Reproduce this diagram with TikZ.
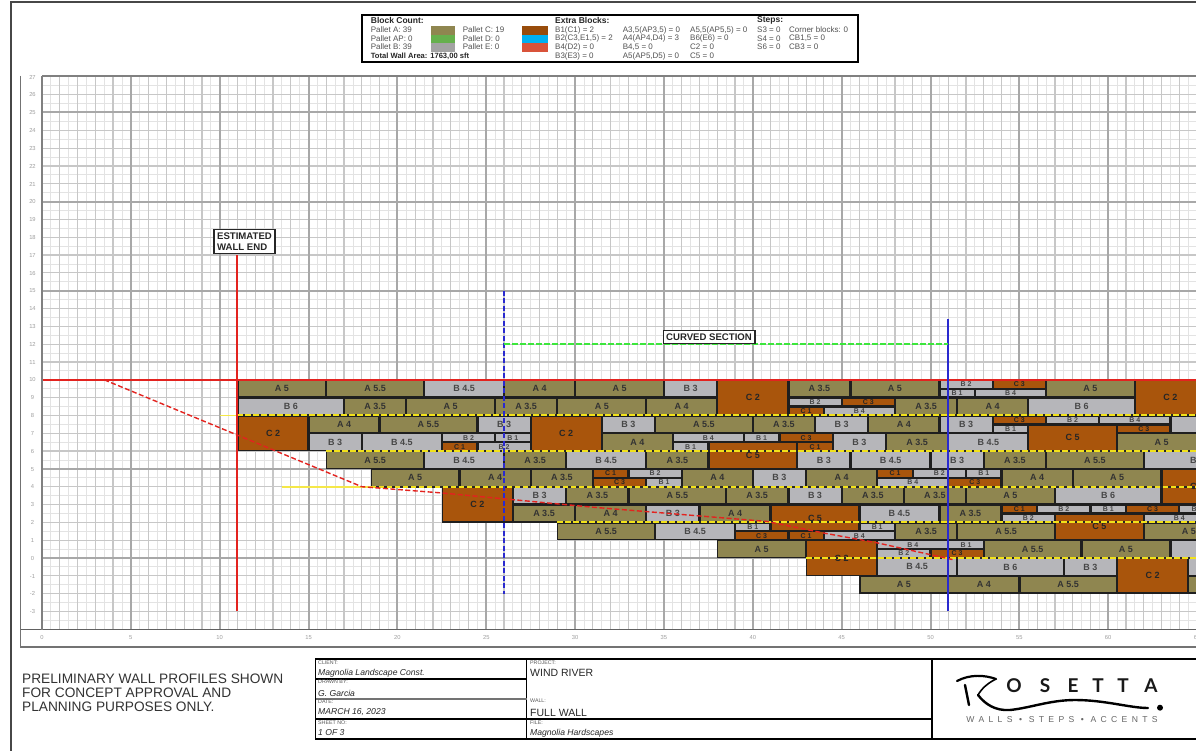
\documentclass[tikz,border=0pt]{standalone}
\usepackage{fontspec}
\setmainfont{Liberation Sans}
\newfontfamily\logoA{Lato}
\newfontfamily\logoB[LetterSpace=50]{Liberation Sans}
\usetikzlibrary{calc}
\definecolor{colA}{HTML}{8F8650}
\definecolor{colB}{HTML}{B6B6BA}
\definecolor{colC}{HTML}{A9550C}
\definecolor{legG}{HTML}{66B04D}
\definecolor{legB}{HTML}{00B0F0}
\definecolor{legR}{HTML}{D9533A}
\definecolor{wallred}{HTML}{E3231F}
\definecolor{wallblue}{HTML}{2A2ACF}
\definecolor{wallgreen}{HTML}{3CE63C}
\definecolor{wallyellow}{HTML}{F2E21A}
\tikzset{
  blkbase/.style={draw=black!88,line width=1.3pt,inner sep=0pt,outer sep=0pt,font=\bfseries\fontsize{9}{9}\selectfont},
  blkA/.style={blkbase,fill=colA,text=black!80},
  blkB/.style={blkbase,fill=colB,text=black!72},
  blkC/.style={blkbase,fill=colC,text=black!85},
  halfsize/.style={font=\bfseries\fontsize{7}{7}\selectfont},
  legtext/.style={anchor=west,inner sep=0pt,text=black!68,font=\fontsize{8}{9}\selectfont},
  leghead/.style={anchor=west,inner sep=0pt,text=black!85,font=\bfseries\fontsize{8.5}{9}\selectfont},
  ticklab/.style={inner sep=0pt,text=black!38,font=\fontsize{5.8}{6}\selectfont},
  tbsmall/.style={anchor=west,inner sep=0pt,text=black!65,font=\fontsize{5.3}{6}\selectfont},
  tbital/.style={anchor=west,inner sep=0pt,text=black!85,font=\itshape\fontsize{8.6}{10}\selectfont},
  tbplain/.style={anchor=west,inner sep=0pt,text=black!85,font=\fontsize{10.5}{12}\selectfont},
  callout/.style={draw=black!85,line width=1.3pt,fill=white,inner sep=3pt,align=left,font=\bfseries\fontsize{9.6}{10.8}\selectfont,text=black!85},
  redline/.style={wallred,line width=2pt},
  reddash/.style={wallred,line width=1.4pt,dash pattern=on 5pt off 2.5pt},
  yback/.style={black!85,line width=2pt},
  yfront/.style={wallyellow,line width=1.9pt,dash pattern=on 5.5pt off 2.5pt},
  ylead/.style={wallyellow!80,line width=1.8pt},
}
\begin{document}
\begin{tikzpicture}[x=1pt,y=-1pt]
\useasboundingbox (0,0) rectangle (1196,751);
\begin{scope}
\clip (0,0) rectangle (1196,751);
\fill[white] (0,0) rectangle (1196,751);
% feet scope
\begin{scope}[shift={(42,558)},x=17.77pt,y=17.82pt]
  \draw[black!11,line width=.9pt] (0,-4) grid[step=.5] (67.5,27);
  \draw[black!22,line width=1.2pt] (0,-4) grid[step=1] (67.5,27);
  \draw[black!34,line width=2pt] (0,-4) grid[step=5] (67.5,27);
  % whole courses and tall blocks
  \foreach \t/\x/\y/\w/\h/\l [count=\i] in {
    A/11/10/5/1/A 5, A/16/10/5.5/1/A 5.5, B/21.5/10/4.5/1/B 4.5, A/26/10/4/1/A 4, A/30/10/5/1/A 5, B/35/10/3/1/B 3, C/38/10/4/2/C 2, A/42/10/3.5/1/A 3.5, A/45.5/10/5/1/A 5, A/56.5/10/5/1/A 5, C/61.5/10/4/2/C 2,
    B/11/9/6/1/B 6, A/17/9/3.5/1/A 3.5, A/20.5/9/5/1/A 5, A/25.5/9/3.5/1/A 3.5, A/29/9/5/1/A 5, A/34/9/4/1/A 4, A/48/9/3.5/1/A 3.5, A/51.5/9/4/1/A 4, B/55.5/9/6/1/B 6,
    C/11/8/4/2/C 2, A/15/8/4/1/A 4, A/19/8/5.5/1/A 5.5, B/24.5/8/3/1/B 3, C/27.5/8/4/2/C 2, B/31.5/8/3/1/B 3, A/34.5/8/5.5/1/A 5.5, A/40/8/3.5/1/A 3.5, B/43.5/8/3/1/B 3, A/46.5/8/4/1/A 4, B/50.5/8/3/1/B 3, C/55.5/7.5/5/1.5/C 5, B/63.5/8/3/1/{},
    B/15/7/3/1/B 3, B/18/7/4.5/1/B 4.5, A/31.5/7/4/1/A 4, C/37.5/6.5/5/1.5/C 5, B/44.5/7/3/1/B 3, A/47.5/7/3.5/1/A 3.5, B/51/7/4.5/1/B 4.5, A/60.5/7/5/1/A 5,
    A/16/6/5.5/1/A 5.5, B/21.5/6/4.5/1/B 4.5, A/26/6/3.5/1/A 3.5, B/29.5/6/4.5/1/B 4.5, A/34/6/3.5/1/A 3.5, B/42.5/6/3/1/B 3, B/45.5/6/4.5/1/B 4.5, B/50/6/3/1/B 3, A/53/6/3.5/1/A 3.5, A/56.5/6/5.5/1/A 5.5, B/62/6/6/1/B 6,
    A/18.5/5/5/1/A 5, A/23.5/5/4/1/A 4, A/27.5/5/3.5/1/A 3.5, A/36/5/4/1/A 4, B/40/5/3/1/B 3, A/43/5/4/1/A 4, A/54/5/4/1/A 4, A/58/5/5/1/A 5, C/63/5/4/2/C 2,
    C/22.5/4/4/2/C 2, B/26.5/4/3/1/B 3, A/29.5/4/3.5/1/A 3.5, A/33/4/5.5/1/A 5.5, A/38.5/4/3.5/1/A 3.5, B/42/4/3/1/B 3, A/45/4/3.5/1/A 3.5, A/48.5/4/3.5/1/A 3.5, A/52/4/5/1/A 5, B/57/4/6/1/B 6,
    A/26.5/3/3.5/1/A 3.5, A/30/3/4/1/A 4, B/34/3/3/1/B 3, A/37/3/4/1/A 4, C/41/3/5/1.5/C 5, B/46/3/4.5/1/B 4.5, A/50.5/3/3.5/1/A 3.5, C/57/2.5/5/1.5/C 5,
    A/29/2/5.5/1/A 5.5, B/34.5/2/4.5/1/B 4.5, A/48/2/3.5/1/A 3.5, A/51.5/2/5.5/1/A 5.5, A/62/2/5.5/1/A 5.5,
    A/38/1/5/1/A 5, C/43/1/4/2/C 2, A/53/1/5.5/1/A 5.5, A/58.5/1/5/1/A 5, B/63.5/1/4.5/1/{},
    B/47/0/4.5/1/B 4.5, B/51.5/0/6/1/B 6, B/57.5/0/3/1/B 3, C/60.5/0/4/2/C 2, B/64.5/0/3/1/{},
    A/46/-1/5/1/A 5, A/51/-1/4/1/A 4, A/55/-1/5.5/1/A 5.5, A/64.5/-1/3/1/{}
  }{
    \pgfmathsetmacro{\cx}{\x+\w/2}\pgfmathsetmacro{\cy}{\y-\h/2}
    \pgfmathsetmacro{\bw}{\w*17.77-1}\pgfmathsetmacro{\bh}{\h*17.82-1}
    \node[blk\t,minimum width=\bw pt,minimum height=\bh pt] (w\i) at (\cx,\cy) {\l};
  }
  % half-height units
  \foreach \t/\x/\y/\w/\l [count=\i] in {
    B/50.5/10/3/B 2, C/53.5/10/3/C 3, B/50.5/9.5/2/B 1, B/52.5/9.5/4/B 4,
    B/42/9/3/B 2, C/45/9/3/C 3, C/42/8.5/2/C 1, B/44/8.5/4/B 4,
    C/53.5/8/3/C 3, B/56.5/8/3/B 2, B/59.5/8/4/B 4, B/53.5/7.5/2/B 1, C/60.5/7.5/3/C 3,
    B/22.5/7/3/B 2, B/25.5/7/2/B 1, C/22.5/6.5/2/C 1, B/24.5/6.5/3/B 2,
    B/35.5/7/4/B 4, B/39.5/7/2/B 1, C/41.5/7/3/C 3, B/35.5/6.5/2/B 1, C/42.5/6.5/2/C 1,
    C/31/5/2/C 1, B/33/5/3/B 2, C/31/4.5/3/C 3, B/34/4.5/2/B 1,
    C/47/5/2/C 1, B/49/5/3/B 2, B/52/5/2/B 1, B/47/4.5/4/B 4, C/51/4.5/3/C 3,
    C/54/3/2/C 1, B/56/3/3/B 2, B/59/3/2/B 1, C/61/3/3/C 3, B/64/3/2/B 1, B/54/2.5/3/B 2, B/62/2.5/4/B 4,
    B/39/2/2/B 1, C/39/1.5/3/C 3, C/42/1.5/2/C 1, B/44/1.5/4/B 4, B/46/2/2/B 1,
    B/47/1/4/B 4, B/51/1/2/B 1, B/47/.5/3/B 2, C/50/.5/3/C 3
  }{
    \pgfmathsetmacro{\cx}{\x+\w/2}\pgfmathsetmacro{\cy}{\y-.25}
    \pgfmathsetmacro{\bw}{\w*17.77-1}
    \node[blk\t,halfsize,minimum width=\bw pt,minimum height=7.9pt] (h\i) at (\cx,\cy) {\l};
  }
  % course lines
  \coordinate (y8a) at (10,8); \coordinate (y8b) at (11,8); \coordinate (y8c) at (67.5,8);
  \coordinate (y6b) at (16,6); \coordinate (y6c) at (67.5,6);
  \coordinate (y4a) at (13.5,4); \coordinate (y4b) at (18.5,4); \coordinate (y4c) at (67.5,4);
  \coordinate (y2b) at (29,2); \coordinate (y2c) at (67.5,2);
  \coordinate (y0b) at (43,0); \coordinate (y0c) at (67.5,0);
  \draw[ylead] (y8a)--(y8b);
  \draw[ylead] (y4a)--(y4b);
  \foreach \a/\b in {y8b/y8c,y6b/y6c,y4b/y4c,y2b/y2c,y0b/y0c}{
    \draw[yback] (\a)--(\b);
    \draw[yfront] (\a)--(\b);
  }
  % red lines
  \coordinate (rt0) at (0,10); \coordinate (rt1) at (67.5,10);
  \coordinate (rv0) at (11,17); \coordinate (rv1) at (11,-3);
  \draw[redline] (rt0)--(rt1);
  \draw[redline] (rv0)--(rv1);
  \coordinate (d0) at (3.5,10); \coordinate (d1) at (18,4); \coordinate (d2) at (22.5,3.65);
  \coordinate (d3) at (31,2.85); \coordinate (d4) at (40.8,2.05); \coordinate (d5) at (44,1.4);
  \coordinate (d6) at (47,.85); \coordinate (d7) at (51.3,-.1);
  \draw[reddash] (d0)--(d1)--(d2)--(d3)--(d4)--(d5)--(d6)--(d7);
  % blue and green
  \coordinate (bd0) at (26,15); \coordinate (bd1) at (26,-2);
  \coordinate (bs0) at (51,13.4); \coordinate (bs1) at (51,-3);
  \draw[wallblue,line width=1.8pt,dash pattern=on 5pt off 2.5pt] (bd0)--(bd1);
  \draw[wallblue,line width=2pt] (bs0)--(bs1);
  \coordinate (gr0) at (26,12); \coordinate (gr1) at (51,12);
  \draw[wallgreen,line width=1.8pt,dash pattern=on 6pt off 2pt] (gr0)--(gr1);
\end{scope}
% callouts
\node[callout] (estend) at (244.5,241.5) {ESTIMATED\\WALL END};
\node[callout,inner sep=3pt] (curved) at (709,337) {CURVED SECTION};
% frames
\coordinate (fa) at (10.7,751); \coordinate (fb) at (10.7,2); \coordinate (fc) at (1196,2);
\draw[black!72,line width=1.7pt] (fa)--(fb)--(fc);
\coordinate (pa) at (20.5,76); \coordinate (pb) at (20.5,647); \coordinate (pc) at (1196,647);
\draw[black!55,line width=1.6pt] (pa)--(pb)--(pc);
\coordinate (ax0) at (20.5,629.5); \coordinate (ax1) at (1196,629.5);
\draw[black!62,line width=1.6pt] (ax0)--(ax1);
\coordinate (tp0) at (42,76); \coordinate (tp1) at (1196,76);
\draw[black!50,line width=1.7pt] (tp0)--(tp1);
\coordinate (lf0) at (42,76); \coordinate (lf1) at (42,629.5);
\draw[black!50,line width=1.7pt] (lf0)--(lf1);
% axis labels
\foreach \v [count=\i] in {0,5,...,65}{
  \node[ticklab] (xt\i) at ({42+17.77*\v},637.5) {\v};
}
\foreach \v [count=\i] in {27,26,...,-3}{
  \node[ticklab] (yt\i) at (32.5,{380-17.82*(\v-10)}) {\v};
}
% legend
\node[draw=black,line width=1.7pt,minimum width=496pt,minimum height=47pt,inner sep=0pt] (legbox) at (610,38.5) {};
\fill[colA] (430.7,26) rectangle (455.3,34.7);
\fill[legG] (430.7,34.7) rectangle (455.3,43.4);
\fill[black!36] (430.7,43.4) rectangle (455.3,52);
\fill[colC!90!black] (522,26) rectangle (548,34.7);
\fill[legB] (522,34.7) rectangle (548,43.4);
\fill[legR] (522,43.4) rectangle (548,52);
\node[leghead] (lh1) at (370.7,20.5) {Block Count:};
\node[leghead] (lh2) at (555,20.5) {Extra Blocks:};
\node[leghead] (lh3) at (757,20.5) {Steps:};
\node[leghead,font=\bfseries\fontsize{7.6}{9}\selectfont] (lh4) at (370.7,56) {Total Wall Area: 1763,00 sft};
\foreach \x/\y/\s [count=\i] in {
  370.7/30/{Pallet A: 39}, 370.7/38.5/{Pallet AP: 0}, 370.7/47/{Pallet B: 39},
  462.7/30/{Pallet C: 19}, 462.7/38.5/{Pallet D: 0}, 462.7/47/{Pallet E: 0},
  555/30/{B1(C1) = 2}, 555/38.5/{B2(C3,E1,5) = 2}, 555/47/{B4(D2) = 0}, 555/56/{B3(E3) = 0},
  622.7/30/{A3,5(AP3,5) = 0}, 622.7/38.5/{A4(AP4,D4) = 3}, 622.7/47/{B4,5 = 0}, 622.7/56/{A5(AP5,D5) = 0},
  690/30/{A5,5(AP5,5) = 0}, 690/38.5/{B6(E6) = 0}, 690/47/{C2 = 0}, 690/56/{C5 = 0},
  757/30/{S3 = 0}, 757/38.5/{S4 = 0}, 757/47/{S6 = 0},
  789/30/{Corner blocks: 0}, 789/38.5/{CB1,5 = 0}, 789/47/{CB3 = 0}
}{
  \node[legtext] (lg\i) at (\x,\y) {\s};
}
% left note
\node[anchor=west,inner sep=0pt,align=left,text=black!80,font=\fontsize{13.7}{14}\selectfont] (note) at (22,693) {PRELIMINARY WALL PROFILES SHOWN\\FOR CONCEPT APPROVAL AND\\PLANNING PURPOSES ONLY.};
% title block
\draw[black,line width=1.7pt] (1197,658.7) -- (315.6,658.7) -- (315.6,739) -- (1197,739);
\draw[black,line width=1.5pt] (526.6,658.7) -- (526.6,739);
\draw[black,line width=1.5pt] (932,658.7) -- (932,739);
\draw[black,line width=1.3pt] (315.6,679) -- (526.6,679);
\draw[black!55,line width=1.5pt] (315.6,699) -- (526.6,699);
\draw[black,line width=1.3pt] (315.6,719) -- (932,719);
\foreach \x/\y/\s [count=\i] in {
  318/663/CLIENT:, 318/682/DRAWN BY:, 318/702/DATE:, 318/723/SHEET NO:,
  530/663/PROJECT:, 530/701/WALL:, 530/723/FILE:
}{
  \node[tbsmall] (ts\i) at (\x,\y) {\s};
}
\foreach \x/\y/\s [count=\i] in {
  318/673/Magnolia Landscape Const., 318/693/G. Garcia, 318/712/{MARCH 16, 2023}, 318/733/1 OF 3, 530/733.5/Magnolia Hardscapes
}{
  \node[tbital] (ti\i) at (\x,\y) {\s};
}
\node[tbplain] (proj) at (530,673) {WIND RIVER};
\node[tbplain] (wall) at (530,713) {FULL WALL};
% logo
\draw[black,line width=2.2pt,line cap=round] (957,681) .. controls (970,674) and (985,675) .. (996,679);
\draw[black,line width=1.6pt,line cap=round] (996,679) .. controls (988,683) and (982,688) .. (978,695);
\draw[black,line width=2.4pt,line cap=round] (978,695) .. controls (985,704) and (995,711) .. (1010,710) .. controls (1030,708) and (1050,700) .. (1075,700) .. controls (1105,700) and (1130,708) .. (1148,708);
\draw[black,line width=2.4pt,line cap=round] (965,685) -- (969,705);
\fill[black] (1160,707.7) circle (3pt);
\foreach \x/\s [count=\i] in {1014/O,1045/S,1073/E,1098/T,1123/T,1151/A}{
  \node[inner sep=0pt,text=black!90,font=\logoA\bfseries\fontsize{19}{20}\selectfont] (lo\i) at (\x,686) {\s};
}
\node[inner sep=0pt,text=black!60,font=\logoB\fontsize{8.6}{9}\selectfont] (lotag) at (1062,720) {WALLS • STEPS • ACCENTS};
\end{scope}
\end{tikzpicture}
\end{document}
